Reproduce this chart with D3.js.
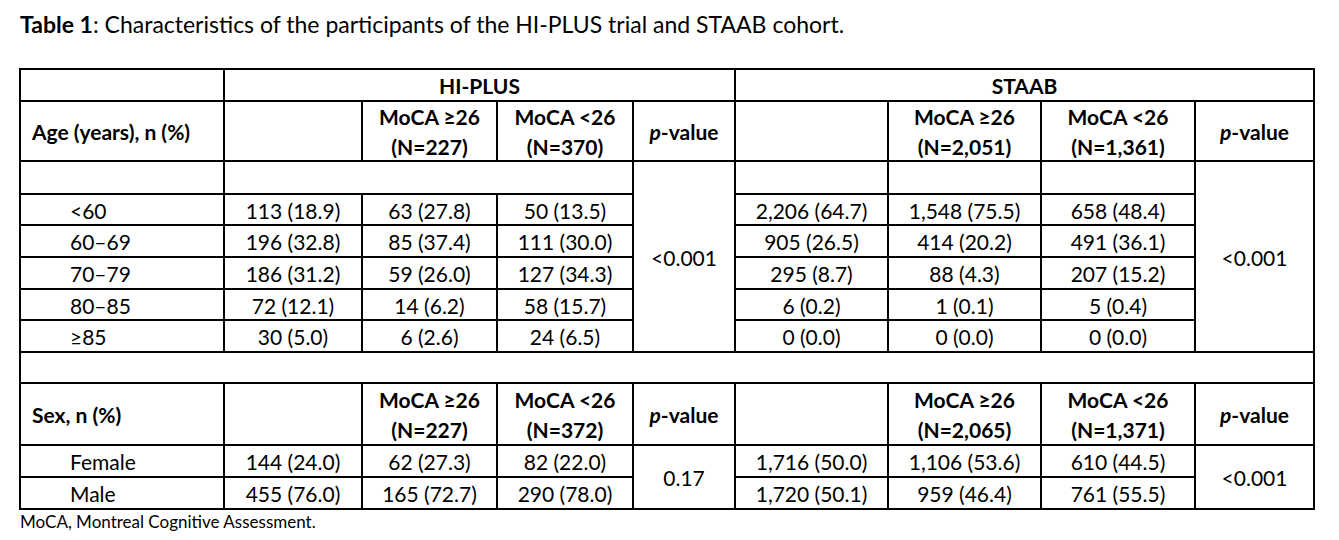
<!DOCTYPE html>
<html><head><meta charset="utf-8">
<script src="https://cdn.jsdelivr.net/npm/d3@7"></script>
<style>body{margin:0;background:#fff}</style>
</head><body><div id="container"></div>
<script>
// Data
const groups = ["HI-PLUS", "STAAB"];
const ageLabels = ["<60", "60–69", "70–79", "80–85", "≥85"];
const ageHiplus = [
  ["113 (18.9)", "63 (27.8)", "50 (13.5)"],
  ["196 (32.8)", "85 (37.4)", "111 (30.0)"],
  ["186 (31.2)", "59 (26.0)", "127 (34.3)"],
  ["72 (12.1)", "14 (6.2)", "58 (15.7)"],
  ["30 (5.0)", "6 (2.6)", "24 (6.5)"]
];
const ageStaab = [
  ["2,206 (64.7)", "1,548 (75.5)", "658 (48.4)"],
  ["905 (26.5)", "414 (20.2)", "491 (36.1)"],
  ["295 (8.7)", "88 (4.3)", "207 (15.2)"],
  ["6 (0.2)", "1 (0.1)", "5 (0.4)"],
  ["0 (0.0)", "0 (0.0)", "0 (0.0)"]
];
const ageN = { hiplus: ["227", "370"], staab: ["2,051", "1,361"] };
const agePvalues = ["<0.001", "<0.001"];
const sexLabels = ["Female", "Male"];
const sexHiplus = [
  ["144 (24.0)", "62 (27.3)", "82 (22.0)"],
  ["455 (76.0)", "165 (72.7)", "290 (78.0)"]
];
const sexStaab = [
  ["1,716 (50.0)", "1,106 (53.6)", "610 (44.5)"],
  ["1,720 (50.1)", "959 (46.4)", "761 (55.5)"]
];
const sexN = { hiplus: ["227", "372"], staab: ["2,065", "1,371"] };
const sexPvalues = ["0.17", "<0.001"];

// Layout
const width = 1339, height = 540;
const colEdges = [20, 224, 362, 497, 633, 735, 888, 1041, 1195, 1314];
const rowEdges = [69, 101, 161, 194, 225, 257, 289, 320, 352, 383, 445, 477, 509];
const x = i => colEdges[i];
const y = i => rowEdges[i];
const font = "Lato, 'Open Sans', sans-serif";

const svg = d3.select("#container").append("svg")
  .attr("width", width).attr("height", height);

svg.append("text").attr("x", 20).attr("y", 33)
  .attr("font-family", font).attr("font-size", 23)
  .call(t => {
    t.append("tspan").attr("font-weight", "bold").text("Table 1");
    t.append("tspan").text(": Characteristics of the participants of the HI-PLUS trial and STAAB cohort.");
  });

// Build cell list
const cells = [];
const cell = (c0, c1, r0, r1, lines = [], opt = {}) => cells.push({ c0, c1, r0, r1, lines, ...opt });

cell(0, 1, 0, 1);
cell(1, 5, 0, 1, [groups[0]], { bold: true });
cell(5, 9, 0, 1, [groups[1]], { bold: true });

function header(r, label, n) {
  cell(0, 1, r, r + 1, [label], { bold: true, left: 12 });
  cell(1, 2, r, r + 1);
  cell(2, 3, r, r + 1, ["MoCA ≥26", `(N=${n.hiplus[0]})`], { bold: true });
  cell(3, 4, r, r + 1, ["MoCA <26", `(N=${n.hiplus[1]})`], { bold: true });
  cell(4, 5, r, r + 1, ["p"], { bold: true, pval: true });
  cell(5, 6, r, r + 1);
  cell(6, 7, r, r + 1, ["MoCA ≥26", `(N=${n.staab[0]})`], { bold: true });
  cell(7, 8, r, r + 1, ["MoCA <26", `(N=${n.staab[1]})`], { bold: true });
  cell(8, 9, r, r + 1, ["p"], { bold: true, pval: true });
}
function body(r0, labels, hi, st, pv, pStart) {
  labels.forEach((lab, i) => {
    const r = r0 + i;
    cell(0, 1, r, r + 1, [lab], { left: 50 });
    hi[i].forEach((v, j) => cell(1 + j, 2 + j, r, r + 1, [v]));
    st[i].forEach((v, j) => cell(5 + j, 6 + j, r, r + 1, [v]));
  });
  cell(4, 5, pStart, r0 + labels.length, [pv[0]]);
  cell(8, 9, pStart, r0 + labels.length, [pv[1]]);
}

header(1, "Age (years), n (%)", ageN);
cell(0, 1, 2, 3); cell(1, 4, 2, 3);
cell(5, 6, 2, 3); cell(6, 7, 2, 3); cell(7, 8, 2, 3);
body(3, ageLabels, ageHiplus, ageStaab, agePvalues, 2);
cell(0, 9, 8, 9);
header(9, "Sex, n (%)", sexN);
body(10, sexLabels, sexHiplus, sexStaab, sexPvalues, 10);

const g = svg.selectAll("g.cell").data(cells).join("g").attr("class", "cell");
g.append("rect")
  .attr("x", d => x(d.c0)).attr("y", d => y(d.r0))
  .attr("width", d => x(d.c1) - x(d.c0)).attr("height", d => y(d.r1) - y(d.r0))
  .attr("fill", "none").attr("stroke", "#000").attr("stroke-width", 2);

g.each(function (d) {
  if (!d.lines.length) return;
  const lh = 30;
  const cy = (y(d.r0) + y(d.r1)) / 2 - (d.lines.length - 1) * lh / 2;
  const t = d3.select(this).append("text")
    .attr("font-family", font).attr("font-size", 21)
    .attr("font-weight", d.bold ? "bold" : "normal")
    .attr("text-anchor", d.left ? "start" : "middle")
    .attr("dominant-baseline", "central");
  const tx = d.left ? x(d.c0) + d.left : (x(d.c0) + x(d.c1)) / 2;
  if (d.pval) {
    t.attr("x", tx).attr("y", cy);
    t.append("tspan").attr("font-style", "italic").text("p");
    t.append("tspan").text("-value");
    return;
  }
  d.lines.forEach((l, i) => t.append("tspan").attr("x", tx).attr("y", cy + i * lh).text(l));
});

svg.append("text").attr("x", 20).attr("y", 528)
  .attr("font-family", font).attr("font-size", 17)
  .text("MoCA, Montreal Cognitive Assessment.");
</script>
</body></html>
